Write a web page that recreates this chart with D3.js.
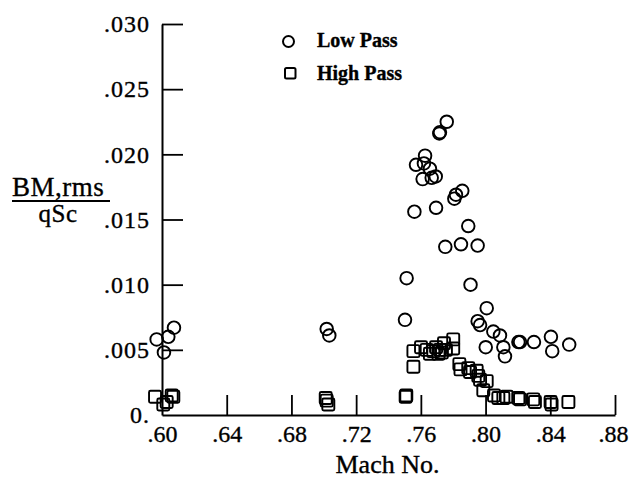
<!DOCTYPE html>
<html>
<head>
<meta charset="utf-8">
<script src="https://cdn.jsdelivr.net/npm/d3@7"></script>
<style>
  body { margin: 0; background: #fff; }
  svg { display: block; font-family: "Liberation Serif", "Times New Roman", serif; }
  text { fill: #000; stroke: #000; stroke-width: 0.35px; }
</style>
</head>
<body>
<svg id="chart" width="629" height="480"></svg>
<script>
// Low Pass (circles): Mach no. and BM,rms/qSc
const lowMach = [0.5967, 0.6039, 0.6074, 0.6012, 0.7018, 0.7034, 0.7502, 0.7512, 0.7560, 0.7570,
  0.7626, 0.7619, 0.7611, 0.7656, 0.7667, 0.7692, 0.7694, 0.7714, 0.7718, 0.7760,
  0.7751, 0.7807, 0.7817, 0.7856, 0.7848, 0.7893, 0.7951, 0.7907, 0.8007, 0.7951,
  0.7966, 0.8001, 0.8048, 0.8089, 0.8110, 0.8120, 0.8203, 0.8213, 0.8299, 0.8404,
  0.8412, 0.8517];
const lowBM = [0.0058, 0.0060, 0.0067, 0.0048, 0.0066, 0.0061, 0.0073, 0.0105, 0.0156, 0.0192,
  0.0199, 0.0193, 0.0181, 0.0189, 0.0182, 0.0183, 0.0159, 0.0216, 0.0217, 0.0225,
  0.0129, 0.0166, 0.0169, 0.0172, 0.0131, 0.0145, 0.0130, 0.0100, 0.0082, 0.0072,
  0.0069, 0.0052, 0.0064, 0.0061, 0.0052, 0.0045, 0.0056, 0.0056, 0.0056, 0.0060,
  0.0049, 0.0054];

// High Pass (squares)
const highMach = [0.5957, 0.6008, 0.6029, 0.6060, 0.6070, 0.7012, 0.7018, 0.7028, 0.7506, 0.7510,
  0.7554, 0.7554, 0.7601, 0.7636, 0.7656, 0.7677, 0.7694, 0.7709, 0.7718, 0.7730,
  0.7743, 0.7755, 0.7800, 0.7800, 0.7838, 0.7845, 0.7893, 0.7904, 0.7945, 0.7955,
  0.7966, 0.7986, 0.8007, 0.8052, 0.8079, 0.8110, 0.8130, 0.8203, 0.8213, 0.8295,
  0.8305, 0.8402, 0.8408, 0.8512];
const highBM = [0.0014, 0.0008, 0.0010, 0.0015, 0.0014, 0.0013, 0.0011, 0.0008, 0.0014, 0.0015,
  0.0049, 0.0037, 0.0052, 0.0050, 0.0047, 0.0049, 0.0052, 0.0047, 0.0050, 0.0048,
  0.0055, 0.0050, 0.0058, 0.0051, 0.0039, 0.0035, 0.0036, 0.0033, 0.0034, 0.0030,
  0.0027, 0.0019, 0.0026, 0.0015, 0.0013, 0.0013, 0.0014, 0.0013, 0.0012, 0.0012,
  0.0010, 0.0010, 0.0008, 0.0010];

const xTicks = [0.60, 0.64, 0.68, 0.72, 0.76, 0.80, 0.84, 0.88];
const xTickLabels = [".60", ".64", ".68", ".72", ".76", ".80", ".84", ".88"];
const yTicks = [0, 0.005, 0.010, 0.015, 0.020, 0.025, 0.030];
const yTickLabels = ["0.", ".005", ".010", ".015", ".020", ".025", ".030"];

const svg = d3.select('#chart');

const x = d3.scaleLinear().domain([0.60, 0.88]).range([162, 615]);
const y = d3.scaleLinear().domain([0, 0.030]).range([415, 24]);

// axes
const xAxis = d3.axisBottom(x)
  .tickValues(xTicks)
  .tickFormat((d, i) => xTickLabels[i])
  .tickSize(-20)
  .tickSizeOuter(0)
  .tickPadding(10);

const yAxis = d3.axisLeft(y)
  .tickValues(yTicks)
  .tickFormat((d, i) => yTickLabels[i])
  .tickSize(-21)
  .tickSizeOuter(0)
  .tickPadding(12);

const gx = svg.append('g').attr('transform', 'translate(0,415)').call(xAxis);
const gy = svg.append('g').attr('transform', 'translate(162,0)').call(yAxis);

[gx, gy].forEach(g => {
  g.select('.domain').attr('stroke', '#000').attr('stroke-width', 2);
  g.selectAll('.tick line').attr('stroke', '#000').attr('stroke-width', 1.8);
  g.selectAll('.tick text')
    .attr('fill', '#000')
    .style('font-size', '24px')
    .style('font-family', '"Liberation Serif", serif');
});
gy.selectAll('.tick text').style('letter-spacing', '1px');
// .88 is flush with the right edge
gx.selectAll('.tick text').filter(d => d === 0.88).attr('text-anchor', 'end').attr('x', 13);
// the x tick at .60 sits on the y axis
gx.selectAll('.tick line').filter(d => d === 0.60).remove();
gy.selectAll('.tick line').filter(d => d === 0).remove();

// axis titles
svg.append('text')
  .attr('x', (162 + 615) / 2 - 1)
  .attr('y', 473)
  .attr('text-anchor', 'middle')
  .style('font-size', '26px')
  .text('Mach No.');

svg.append('text')
  .attr('x', 12)
  .attr('y', 196)
  .style('font-size', '27px')
  .style('letter-spacing', '0.5px')
  .text('BM,rms');
svg.append('line')
  .attr('x1', 12).attr('x2', 110)
  .attr('y1', 201).attr('y2', 201)
  .attr('stroke', '#000').attr('stroke-width', 1.8);
svg.append('text')
  .attr('x', 58)
  .attr('y', 222)
  .attr('text-anchor', 'middle')
  .style('font-size', '25px')
  .style('letter-spacing', '0.5px')
  .text('qSc');

// markers
const lowData = lowMach.map((m, i) => ({ m: m, v: lowBM[i] }));
const highData = highMach.map((m, i) => ({ m: m, v: highBM[i] }));

svg.append('g').selectAll('circle')
  .data(lowData)
  .join('circle')
  .attr('cx', d => x(d.m))
  .attr('cy', d => y(d.v))
  .attr('r', 6.3)
  .attr('fill', 'none')
  .attr('stroke', '#000')
  .attr('stroke-width', 1.9);

const sq = 12;
svg.append('g').selectAll('rect')
  .data(highData)
  .join('rect')
  .attr('x', d => x(d.m) - sq / 2)
  .attr('y', d => y(d.v) - sq / 2)
  .attr('width', sq)
  .attr('height', sq)
  .attr('rx', 1.5)
  .attr('fill', 'none')
  .attr('stroke', '#000')
  .attr('stroke-width', 1.9);

// legend
const legend = svg.append('g');
legend.append('circle')
  .attr('cx', 288.5).attr('cy', 41.5).attr('r', 5.5)
  .attr('fill', 'none').attr('stroke', '#000').attr('stroke-width', 2);
legend.append('text')
  .attr('x', 317).attr('y', 47)
  .style('font-size', '20px').style('font-weight', 'bold')
  .text('Low Pass');
legend.append('rect')
  .attr('x', 285).attr('y', 68).attr('width', 10.5).attr('height', 10.5).attr('rx', 1.5)
  .attr('fill', 'none').attr('stroke', '#000').attr('stroke-width', 2);
legend.append('text')
  .attr('x', 317).attr('y', 80)
  .style('font-size', '20px').style('font-weight', 'bold')
  .text('High Pass');
</script>
</body>
</html>
